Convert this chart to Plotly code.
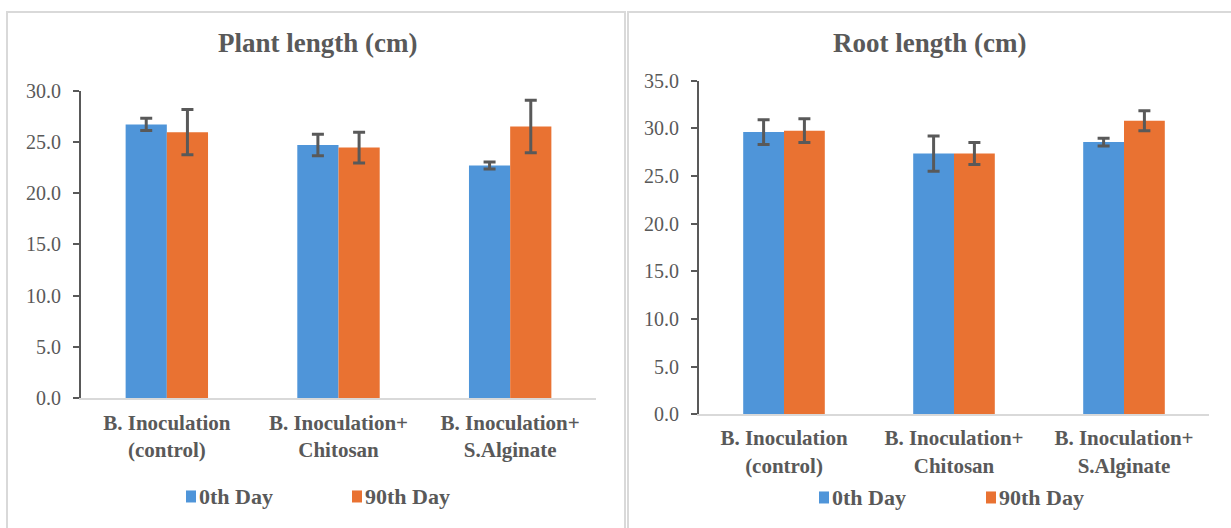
import plotly.graph_objects as go

# ---------------- data ----------------
categories = ["B. Inoculation<br>(control)", "B. Inoculation+<br>Chitosan", "B. Inoculation+<br>S.Alginate"]
series_names = ["0th Day", "90th Day"]

plant_day0 = [26.7, 24.7, 22.7]
plant_day0_err = [0.6, 1.05, 0.35]
plant_day90 = [25.95, 24.45, 26.5]
plant_day90_err = [2.2, 1.5, 2.55]

root_day0 = [29.6, 27.35, 28.55]
root_day0_err = [1.3, 1.85, 0.4]
root_day90 = [29.75, 27.35, 30.8]
root_day90_err = [1.25, 1.15, 1.05]

plant_ticks = [0, 5, 10, 15, 20, 25, 30]
root_ticks = [0, 5, 10, 15, 20, 25, 30, 35]

titles = ["Plant length (cm)", "Root length (cm)"]

# ---------------- style ----------------
W, H = 1231, 528
BLUE = "#4F95D9"
ORANGE = "#E97232"
GREY = "#595959"
LIGHT = "#D9D9D9"
FONT = "Liberation Serif"

# vertical correction measured from the rendered page
VS, VO = 0.957, 11.2


def px(x):
    return x / W


def py(y):
    ys = (y - VO) / VS
    return (H - ys) / H


fig = go.Figure()

panels = [
    (plant_day0, plant_day0_err, plant_day90, plant_day90_err, "x", "y"),
    (root_day0, root_day0_err, root_day90, root_day90_err, "x2", "y2"),
]
for d0, e0, d90, e90, xa, ya in panels:
    for vals, errs, color, name in [(d0, e0, BLUE, series_names[0]), (d90, e90, ORANGE, series_names[1])]:
        fig.add_trace(go.Bar(
            x=categories, y=vals, name=name, xaxis=xa, yaxis=ya,
            marker=dict(color=color, line=dict(width=0)),
            error_y=dict(type="data", array=errs, visible=True, color=GREY, thickness=3, width=6),
            showlegend=False,
        ))

tickfont = dict(family=FONT, size=20, color=GREY)
catfont = dict(family=FONT, size=21, color=GREY, weight="bold")

fig.update_layout(
    width=W, height=H,
    margin=dict(l=0, r=0, t=0, b=0),
    paper_bgcolor="white", plot_bgcolor="white",
    barmode="group", bargap=0.52, bargroupgap=0,
    xaxis=dict(domain=[px(81), px(596)], showline=True, linecolor=LIGHT, linewidth=2,
               ticks="", tickfont=catfont, showgrid=False, anchor="y", ticklabelstandoff=4),
    yaxis=dict(domain=[py(398), py(90.7)], range=[0, 30], tickvals=plant_ticks, tickformat=".1f",
               showline=True, linecolor=GREY, linewidth=2, ticks="outside", ticklen=6,
               tickcolor=GREY, tickwidth=2, tickfont=tickfont, showgrid=False, zeroline=False,
               anchor="x", ticklabelstandoff=8),
    xaxis2=dict(domain=[px(699), px(1209)], showline=True, linecolor=LIGHT, linewidth=2,
                ticks="", tickfont=catfont, showgrid=False, anchor="y2", ticklabelstandoff=4),
    yaxis2=dict(domain=[py(413.9), py(80.7)], range=[0, 35], tickvals=root_ticks, tickformat=".1f",
                showline=True, linecolor=GREY, linewidth=2, ticks="outside", ticklen=6,
                tickcolor=GREY, tickwidth=2, tickfont=tickfont, showgrid=False, zeroline=False,
                anchor="x2", ticklabelstandoff=8),
)

# panel borders
top = (H - 1) / H
fig.add_shape(type="rect", xref="paper", yref="paper", x0=px(7), x1=px(625), y0=-0.1, y1=top,
              line=dict(color=LIGHT, width=2), layer="below")
fig.add_shape(type="rect", xref="paper", yref="paper", x0=px(628), x1=px(1240), y0=-0.1, y1=top,
              line=dict(color=LIGHT, width=2), layer="below")

# titles
for t, cx in zip(titles, [317, 929]):
    fig.add_annotation(text=f"<b>{t}</b>", xref="paper", yref="paper", x=px(cx), y=py(43),
                       xanchor="center", yanchor="middle", showarrow=False,
                       font=dict(family=FONT, size=27, color=GREY))

# legends (manual)
legend_items = [
    (186, 496, BLUE, series_names[0]), (352, 496, ORANGE, series_names[1]),
    (819, 497, BLUE, series_names[0]), (986, 497, ORANGE, series_names[1]),
]
for x0, yc, color, name in legend_items:
    fig.add_shape(type="rect", xref="paper", yref="paper", x0=px(x0), x1=px(x0 + 10),
                  y0=py(yc + 6), y1=py(yc - 6), line=dict(width=0), fillcolor=color)
    fig.add_annotation(text=f"<b>{name}</b>", xref="paper", yref="paper", x=px(x0 + 11), y=py(yc),
                       xanchor="left", yanchor="middle", showarrow=False,
                       font=dict(family=FONT, size=22, color=GREY))

fig.write_html("out.html", config={"displayModeBar": False},
               post_script="document.body.style.margin='0';")
